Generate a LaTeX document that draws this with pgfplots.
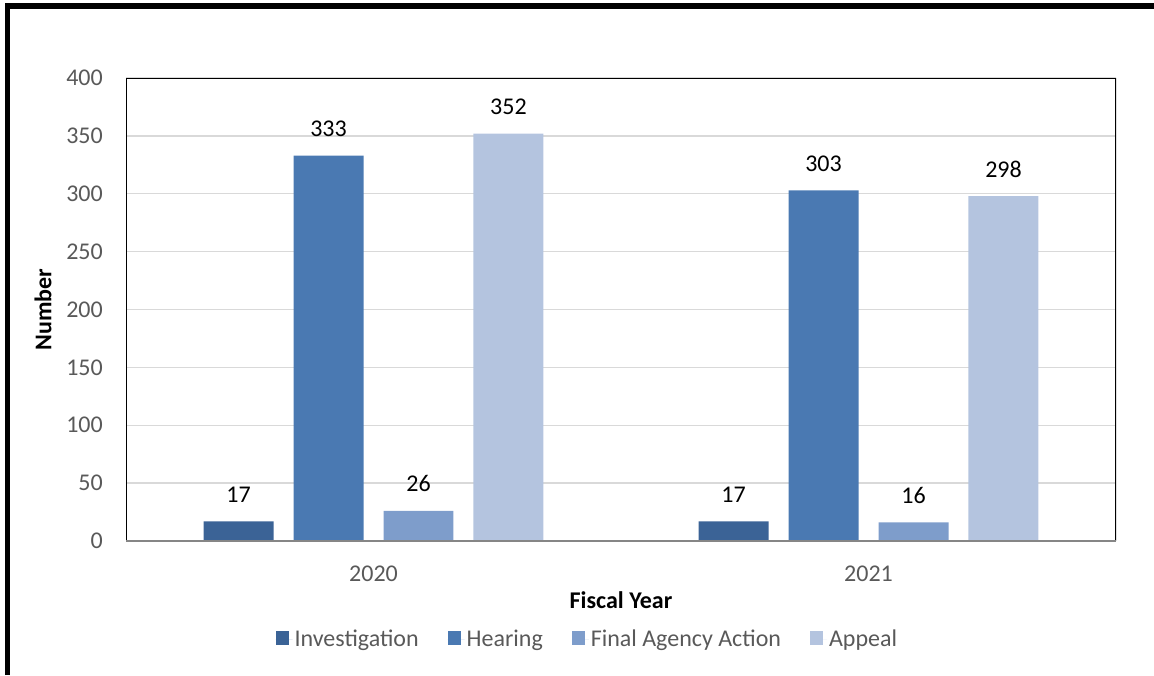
\documentclass[border=0pt]{standalone}
\usepackage{fontspec}
\setmainfont{Carlito}
\usepackage{pgfplots}
\pgfplotsset{compat=1.18}

\definecolor{cInv}{RGB}{59,99,150}
\definecolor{cHear}{RGB}{74,121,178}
\definecolor{cFAA}{RGB}{126,157,203}
\definecolor{cApp}{RGB}{180,196,223}
\definecolor{tickgray}{RGB}{89,89,89}
\definecolor{gridgray}{RGB}{217,217,217}
\definecolor{axisgray}{RGB}{134,134,134}

\newcommand{\chartfont}{\fontsize{24}{28}\selectfont}

\begin{document}
\begin{tikzpicture}
\useasboundingbox (0,0) rectangle (1154pt,675pt);
% outer frame (top and left only)
\draw[line width=5.5pt] (7.5pt,0) -- (7.5pt,669pt) -- (1154pt,669pt);

\begin{axis}[
    at={(126pt,134pt)}, anchor=south west,
    scale only axis, width=990pt, height=463pt,
    ymin=0, ymax=400, ytick={0,50,...,400},
    xmin=-0.5, xmax=1.5, xtick={0,1}, xticklabels={2020,2021},
    ymajorgrids, grid style={draw=gridgray, line width=1.3pt},
    major tick length=0pt,
    axis line style={draw=none},
    /pgf/number format/assume math mode=true,
    ticklabel style={font=\chartfont, text=tickgray},
    yticklabel style={anchor=east, inner sep=0pt, xshift=-23pt},
    xticklabel style={anchor=center, inner sep=0pt, yshift=-33pt},
    xlabel={\textbf{Fiscal Year}},
    ylabel={\textbf{Number}},
    label style={font=\chartfont, text=black},
    xlabel style={at={(axis description cs:0.5,0)}, anchor=center, yshift=-59pt},
    ylabel style={at={(axis description cs:-0.0838,0.5)}, anchor=center},
    ybar, bar width=0.1414,
    nodes near coords,
    every node near coord/.append style={font=\chartfont, text=black, anchor=base, yshift=19pt},
    legend columns=4,
    legend style={at={(axis description cs:0.466,-0.2117)}, anchor=center,
        draw=none, fill=none, font=\chartfont, text=tickgray,
        /tikz/every even column/.append style={column sep=27pt}},
    legend image code/.code={\fill[#1] (0pt,-6pt) rectangle (13pt,8pt); \path (0pt,0pt) -- (17pt,0pt);},
]
\addplot[fill=cInv, draw=none, bar shift=-0.2727] coordinates {(0,17) (1,17)};
\addlegendentry{Investigation}
\addplot[fill=cHear, draw=none, bar shift=-0.0909] coordinates {(0,333) (1,303)};
\addlegendentry{Hearing}
\addplot[fill=cFAA, draw=none, bar shift=0.0909] coordinates {(0,26) (1,16)};
\addlegendentry{Final Agency Action}
\addplot[fill=cApp, draw=none, bar shift=0.2727] coordinates {(0,352) (1,298)};
\addlegendentry{Appeal}

\draw[black, line width=2.2pt] (rel axis cs:0,0) -- (rel axis cs:0,1) -- (rel axis cs:1,1) -- (rel axis cs:1,0);
\draw[axisgray, line width=2pt] (rel axis cs:0,0) -- (rel axis cs:1,0);
\end{axis}
\end{tikzpicture}
\end{document}
